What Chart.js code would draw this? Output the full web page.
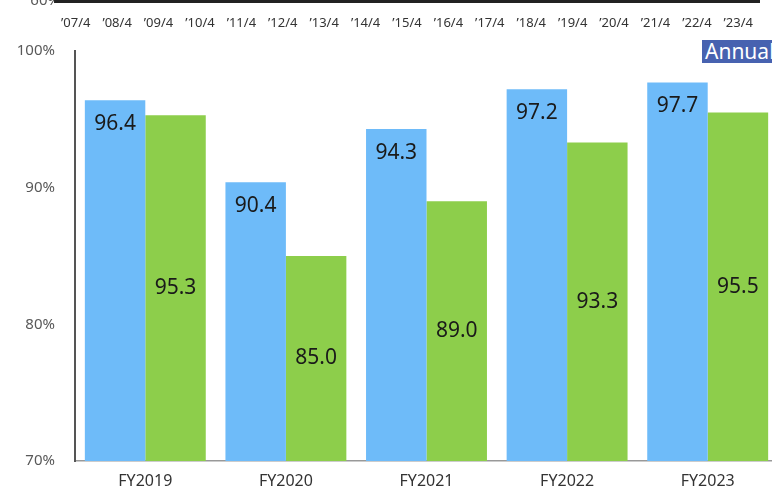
<!DOCTYPE html>
<html>
<head>
<meta charset="utf-8">
<script src="https://cdn.jsdelivr.net/npm/chart.js@4/dist/chart.umd.min.js"></script>
<style>
  html, body { margin: 0; padding: 0; background: #fff; }
  body { width: 772px; height: 495px; overflow: hidden; position: relative; font-family: "Noto Sans", sans-serif; }
  #main-wrap { position: absolute; left: 0; top: 0; width: 780px; height: 495px; }
  #strip-wrap { position: absolute; left: 0; top: -29px; width: 772px; height: 60px; }
  .tag {
    position: absolute; left: 702px; top: 40px; width: 90px; height: 23px;
    background: #4762b0; color: #fff; font-size: 21px; line-height: 23px;
    padding-left: 3px; white-space: nowrap; box-sizing: border-box; overflow: hidden;
  }
</style>
</head>
<body>
<div id="main-wrap"><canvas id="rate-chart"></canvas></div>
<div id="strip-wrap"><canvas id="month-strip"></canvas></div>
<div class="tag">Annual</div>
<script>
// fiscal-year rates (%)
const fiscalYears = ["FY2019", "FY2020", "FY2021", "FY2022", "FY2023"];
const blueRates = [96.4, 90.4, 94.3, 97.2, 97.7];
const greenRates = [95.3, 85.0, 89.0, 93.3, 95.5];
const rateTicks = [70, 80, 90, 100];

// month labels of the chart above
const monthLabels = ["’07/4", "’08/4", "’09/4", "’10/4", "’11/4", "’12/4", "’13/4", "’14/4", "’15/4",
  "’16/4", "’17/4", "’18/4", "’19/4", "’20/4", "’21/4", "’22/4", "’23/4"];
const stripTicks = [60];

const FONT = '"Noto Sans", sans-serif';

// value labels: blue near the top of its bar, green in the middle
const barLabels = {
  id: "barLabels",
  afterDatasetsDraw(chart) {
    const { ctx } = chart;
    const yScale = chart.scales.y;
    const base = yScale.getPixelForValue(yScale.min);
    ctx.save();
    ctx.font = `21px ${FONT}`;
    ctx.fillStyle = "#1a1a1a";
    ctx.textAlign = "center";
    ctx.textBaseline = "middle";
    chart.data.datasets.forEach((ds, i) => {
      chart.getDatasetMeta(i).data.forEach((bar, j) => {
        const y = i === 0 ? bar.y + 24 : (bar.y + base) / 2;
        ctx.fillText(ds.data[j].toFixed(1), bar.x, y);
      });
    });
    ctx.restore();
  },
};

new Chart(document.getElementById("rate-chart"), {
  type: "bar",
  data: {
    labels: fiscalYears,
    datasets: [
      { data: blueRates, backgroundColor: "#6ebbf9" },
      { data: greenRates, backgroundColor: "#8dce4b" },
    ],
  },
  options: {
    responsive: true,
    maintainAspectRatio: false,
    animation: false,
    layout: { padding: { top: 51, bottom: 0, right: 2, left: 0 } },
    plugins: { legend: { display: false }, tooltip: { enabled: false } },
    datasets: { bar: { categoryPercentage: 0.86, barPercentage: 1.0 } },
    scales: {
      x: {
        afterFit: (scale) => { scale.height = 34; },
        grid: { display: false, drawTicks: false },
        border: { color: "#999", width: 1.5 },
        ticks: { color: "#333", font: { family: FONT, size: 16 }, padding: 11 },
      },
      y: {
        min: 70,
        max: 100,
        afterFit: (scale) => { scale.width = 75; },
        afterBuildTicks: (scale) => { scale.ticks = rateTicks.map((v) => ({ value: v })); },
        grid: { display: false, drawTicks: false },
        border: { color: "#555", width: 2 },
        ticks: { color: "#595959", font: { family: FONT, size: 15 }, padding: 20, callback: (v) => v + "%" },
      },
    },
  },
  plugins: [barLabels],
});

// bottom edge of the month chart: axis line and labels only
new Chart(document.getElementById("month-strip"), {
  type: "bar",
  data: { labels: monthLabels, datasets: [] },
  options: {
    responsive: true,
    maintainAspectRatio: false,
    animation: false,
    layout: { padding: { top: 0, bottom: 0, right: 13, left: 0 } },
    plugins: { legend: { display: false }, tooltip: { enabled: false } },
    scales: {
      x: {
        afterFit: (scale) => { scale.height = 30; },
        grid: { display: false, drawTicks: false },
        border: { color: "#222", width: 3 },
        ticks: { color: "#333", font: { family: FONT, size: 13 }, padding: 14, maxRotation: 0, autoSkip: false },
      },
      y: {
        min: 60,
        max: 70,
        afterFit: (scale) => { scale.width = 55; },
        afterBuildTicks: (scale) => { scale.ticks = stripTicks.map((v) => ({ value: v })); },
        grid: { display: false, drawTicks: false },
        border: { display: false },
        ticks: { color: "#595959", font: { family: FONT, size: 15 }, padding: -5, callback: (v) => v + "%" },
      },
    },
  },
});
</script>
</body>
</html>
